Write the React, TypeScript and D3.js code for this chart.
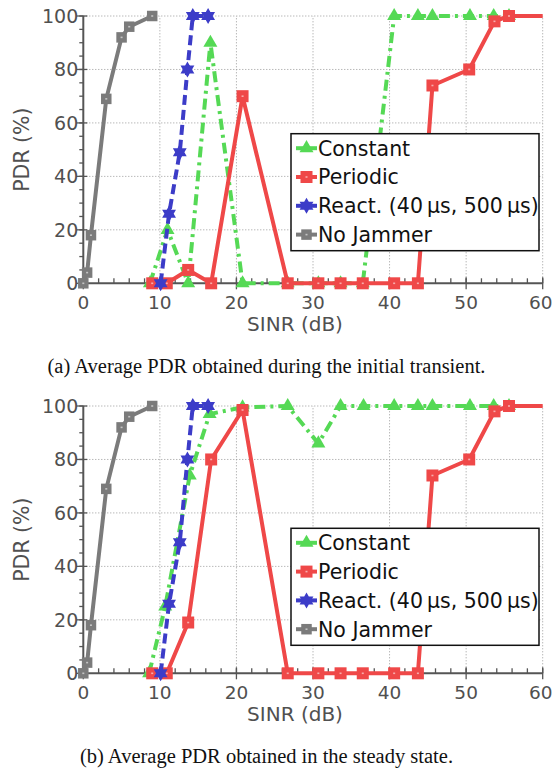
import React from "react";
import * as d3 from "d3";

// ---------- data ----------
const noJamX = [0, 0.5, 1, 3, 5, 6, 9];
const noJamY = [0, 4, 18, 69, 92, 96, 100];

const reactX = [10.1, 11.2, 12.6, 13.6, 14.3, 16.3];
const reactY = [0, 26, 49, 80, 100, 100];

const constAX = [8.7, 11, 13.7, 16.6, 20.8, 26.7, 30.7, 33.6, 36.5, 40.6, 43.7, 45.6, 50.5, 53.6, 55.6];
const constAY = [0, 20, 0, 90, 0, 0, 0, 0, 0, 100, 100, 100, 100, 100, 100];

const periodAX = [9, 10.9, 13.7, 16.7, 20.8, 26.7, 30.7, 33.6, 36.5, 40.6, 43.7, 45.6, 50.4, 53.7, 55.6, 62];
const periodAY = [0, 0, 5, 0, 70, 0, 0, 0, 0, 0, 0, 74, 80, 98, 100, 100];

const constBX = [8.6, 10.7, 13.9, 16.5, 20.8, 26.7, 30.7, 33.6, 36.6, 40.6, 43.7, 45.6, 50.5, 53.6, 55.6];
const constBY = [0, 25, 74, 97, 99.5, 100, 86, 100, 100, 100, 100, 100, 100, 100, 100];

const periodBX = [9, 10.9, 13.7, 16.7, 20.8, 26.7, 30.7, 33.6, 36.5, 40.6, 43.7, 45.6, 50.4, 53.7, 55.6, 62];
const periodBY = [0, 0, 19, 80, 98.5, 0, 0, 0, 0, 0, 0, 74, 80, 98, 100, 100];

const legendLabels = ["Constant", "Periodic", "React. (40\u2009\u00b5s, 500\u2009\u00b5s)", "No Jammer"];
const xTickValues = [0, 10, 20, 30, 40, 50, 60];
const yTickValues = [0, 20, 40, 60, 80, 100];
const captions = [
  "(a)  Average PDR obtained during the initial transient.",
  "(b)  Average PDR obtained in the steady state.",
];
const xLabel = "SINR (dB)";
const yLabel = "PDR (%)";

// ---------- style ----------
const GREEN = "#55d955";
const RED = "#ef4848";
const BLUE = "#3c3cc8";
const GRAY = "#7b7b7b";
const TEXT_GRAY = "#505050";
const SANS = "'DejaVu Sans', sans-serif";
const SERIF = "'Liberation Serif', 'Times New Roman', serif";

type Kind = "tri" | "sq" | "star";

function hexagram(R: number): string {
  const r = R / Math.sqrt(3);
  const pts: [number, number][] = [];
  for (let i = 0; i < 12; i++) {
    const a = -Math.PI / 2 + (i * Math.PI) / 6;
    const rr = i % 2 === 0 ? R : r;
    pts.push([rr * Math.cos(a), rr * Math.sin(a)]);
  }
  return "M" + pts.map((p) => p[0].toFixed(2) + "," + p[1].toFixed(2)).join("L") + "Z";
}

const triPath = d3.symbol(d3.symbolTriangle, 85)() as string;
const starPath = hexagram(8);

function Marker({ kind, cx, cy, color, size }: { kind: Kind; cx: number; cy: number; color: string; size: number }) {
  if (kind === "tri") return <path d={triPath} transform={`translate(${cx},${cy})`} fill={color} />;
  if (kind === "star") return <path d={starPath} transform={`translate(${cx},${cy})`} fill={color} />;
  return (
    <g transform={`translate(${cx},${cy})`}>
      <rect x={-size / 2} y={-size / 2} width={size} height={size} fill={color} />
      <rect x={-1} y={-0.8} width={2} height={1.6} fill="#fff" opacity={0.55} />
    </g>
  );
}

type Series = {
  xs: number[];
  ys: number[];
  color: string;
  dash: string | undefined;
  kind: Kind;
  size: number;
  width: number;
};

function Panel({ top, constX, constY, perX, perY, caption, legendTop, idx }: any) {
  const x = d3.scaleLinear().domain([0, 60]).range([83.3, 542.7]);
  const y = d3.scaleLinear().domain([0, 100]).range([top + 267.3, top]);
  const series: Series[] = [
    { xs: constX, ys: constY, color: GREEN, dash: "11,5,3,5", kind: "tri", size: 0, width: 4 },
    { xs: perX, ys: perY, color: RED, dash: undefined, kind: "sq", size: 12, width: 4 },
    { xs: reactX, ys: reactY, color: BLUE, dash: "10,5", kind: "star", size: 0, width: 4 },
    { xs: noJamX, ys: noJamY, color: GRAY, dash: undefined, kind: "sq", size: 10.5, width: 4 },
  ];
  const line = d3
    .line<[number, number]>()
    .x((d) => x(d[0]))
    .y((d) => y(d[1]));
  const xMinor = d3.range(0, 60.1, 2);
  const yMinor = d3.range(0, 100.1, 5);
  const clipId = "clip" + idx;
  const x0 = x(0);
  const y0 = y(0);

  return (
    <g>
      <defs>
        <clipPath id={clipId}>
          <rect x={x(0) - 10} y={y(100) - 12} width={x(60) - x(0) + 10} height={y(0) - y(100) + 24} />
        </clipPath>
      </defs>
      {/* grid */}
      {xTickValues
        .filter((v) => v > 0)
        .map((v) => (
          <line key={"gx" + v} x1={x(v)} x2={x(v)} y1={y(0)} y2={y(100)} stroke="#9a9a9a" strokeWidth={1} strokeDasharray="1,2" />
        ))}
      {yTickValues
        .filter((v) => v > 0)
        .map((v) => (
          <line key={"gy" + v} x1={x(0)} x2={x(60)} y1={y(v)} y2={y(v)} stroke="#9a9a9a" strokeWidth={1} strokeDasharray="1,2" />
        ))}
      {/* axes */}
      <line x1={x0} x2={x(60)} y1={y0} y2={y0} stroke="#555" strokeWidth={2} />
      <line x1={x0} x2={x0} y1={y0} y2={y(100)} stroke="#555" strokeWidth={2} />
      {xMinor.map((v) => (
        <line key={"xm" + v} x1={x(v)} x2={x(v)} y1={y0} y2={y0 - 5} stroke="#555" strokeWidth={1.3} />
      ))}
      {xTickValues.map((v) => (
        <line key={"xM" + v} x1={x(v)} x2={x(v)} y1={y0 - 6} y2={y0 + 6} stroke="#555" strokeWidth={1.3} />
      ))}
      {yMinor.map((v) => (
        <line key={"ym" + v} x1={x0 - 4} x2={x0} y1={y(v)} y2={y(v)} stroke="#555" strokeWidth={1.3} />
      ))}
      {yTickValues.map((v) => (
        <line key={"yM" + v} x1={x0 - 7} x2={x0 + 4} y1={y(v)} y2={y(v)} stroke="#555" strokeWidth={1.3} />
      ))}
      {xTickValues.map((v) => (
        <text
          key={"xl" + v}
          x={v === 60 ? x(v) - 2 : x(v)}
          y={y0 + 26}
          textAnchor="middle"
          fontSize={18.5}
          fontFamily={SANS}
          fill={TEXT_GRAY}
        >
          {v}
        </text>
      ))}
      {yTickValues.map((v) => (
        <text key={"yl" + v} x={x0 - 5} y={y(v) + 7} textAnchor="end" fontSize={19} fontFamily={SANS} fill={TEXT_GRAY}>
          {v}
        </text>
      ))}
      <text x={295} y={y0 + 48} textAnchor="middle" fontSize={20} fontFamily={SANS} fill={TEXT_GRAY}>
        {xLabel}
      </text>
      <text
        transform={`translate(29,${(y(0) + y(100)) / 2}) rotate(-90)`}
        textAnchor="middle"
        fontSize={20.5}
        fontFamily={SANS}
        fill={TEXT_GRAY}
      >
        {yLabel}
      </text>
      {/* series */}
      <g clipPath={`url(#${clipId})`}>
        {series.map((s, i) => {
          const pts = s.xs.map((v, j) => [v, s.ys[j]] as [number, number]);
          return (
            <g key={"s" + i}>
              <path d={line(pts) as string} fill="none" stroke={s.color} strokeWidth={s.width} strokeDasharray={s.dash} strokeLinejoin="round" />
              {pts.map((p, j) => (
                <Marker key={j} kind={s.kind} cx={x(p[0])} cy={y(p[1])} color={s.color} size={s.size} />
              ))}
            </g>
          );
        })}
      </g>
      {/* legend */}
      <g transform={`translate(291,${legendTop})`}>
        <rect x={0} y={0} width={248} height={117} fill="#fff" stroke="#111" strokeWidth={1.5} />
        {series.map((s, i) => {
          const cy = 14.5 + i * 28.8;
          return (
            <g key={"lg" + i}>
              <line x1={5} x2={26} y1={cy} y2={cy} stroke={s.color} strokeWidth={4} />
              <Marker kind={s.kind} cx={15.5} cy={cy} color={s.color} size={s.size} />
              <text x={27} y={cy + 7.5} fontSize={20.5} fontFamily={SANS} fill="#111">
                {legendLabels[i]}
              </text>
            </g>
          );
        })}
      </g>
      <text x={266.5} y={top + 357} textAnchor="middle" fontSize={20.5} fontFamily={SERIF} fill="#111">
        {caption}
      </text>
    </g>
  );
}

export default function App() {
  return (
    <svg
      width={553}
      height={770}
      viewBox="0 0 553 770"
      style={{ position: "absolute", left: 0, top: 0, background: "#fff" }}
    >
      <rect x={0} y={0} width={553} height={770} fill="#fff" />
      <Panel idx={0} top={16} constX={constAX} constY={constAY} perX={periodAX} perY={periodAY} caption={captions[0]} legendTop={133.7} />
      <Panel idx={1} top={406} constX={constBX} constY={constBY} perX={periodBX} perY={periodBY} caption={captions[1]} legendTop={528.3} />
    </svg>
  );
}
